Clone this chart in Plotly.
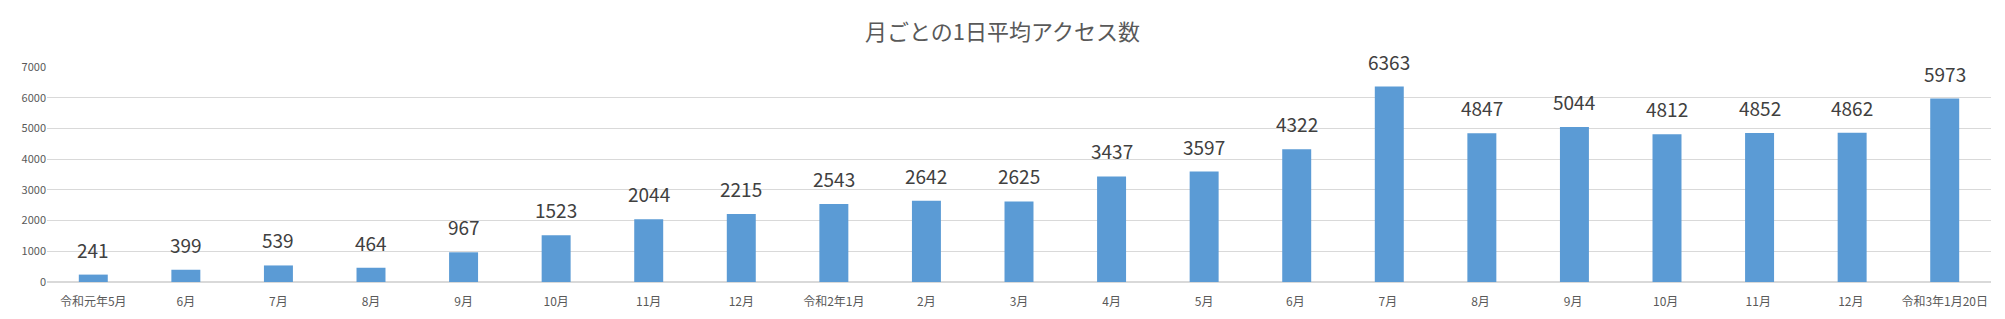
import plotly.graph_objects as go

categories = ["令和元年5月", "6月", "7月", "8月", "9月", "10月", "11月", "12月",
              "令和2年1月", "2月", "3月", "4月", "5月", "6月 ", "7月 ", "8月 ", "9月 ",
              "10月 ", "11月 ", "12月 ", "令和3年1月20日"]
values = [241, 399, 539, 464, 967, 1523, 2044, 2215, 2543, 2642, 2625, 3437, 3597,
          4322, 6363, 4847, 5044, 4812, 4852, 4862, 5973]
title_text = "月ごとの1日平均アクセス数"

FONT = "Noto Sans CJK JP"

fig = go.Figure()
fig.add_trace(go.Bar(
    x=categories, y=values,
    marker=dict(color="#5b9bd5", line=dict(width=0)),
    hoverinfo="x+y",
))

for c, v in zip(categories, values):
    fig.add_annotation(
        x=c, y=v, text=str(v), showarrow=False,
        yanchor="bottom", yshift=10,
        font=dict(family=FONT, size=19, color="#404040"),
    )

fig.update_layout(
    width=2005, height=319,
    margin=dict(l=47, r=14, t=67, b=37),
    paper_bgcolor="white", plot_bgcolor="white",
    bargap=0.687,
    showlegend=False,
    title=dict(text=title_text, x=0.5, xanchor="center", y=1 - 32 / 319,
               yanchor="middle", yref="container",
               font=dict(family=FONT, size=22, color="#595959")),
    xaxis=dict(
        type="category", showgrid=False, showline=True, linecolor="#d9d9d9",
        ticks="", ticklabelstandoff=9, automargin=False,
        tickfont=dict(family=FONT, size=12, color="#595959"),
    ),
    yaxis=dict(
        range=[0, 7000], dtick=1000, showgrid=True, gridcolor="#d9d9d9",
        zeroline=True, zerolinecolor="#d9d9d9", showline=False, ticks="",
        automargin=False,
        tickfont=dict(family=FONT, size=11, color="#595959"),
    ),
    font=dict(family=FONT),
)

fig.write_html("out.html")
